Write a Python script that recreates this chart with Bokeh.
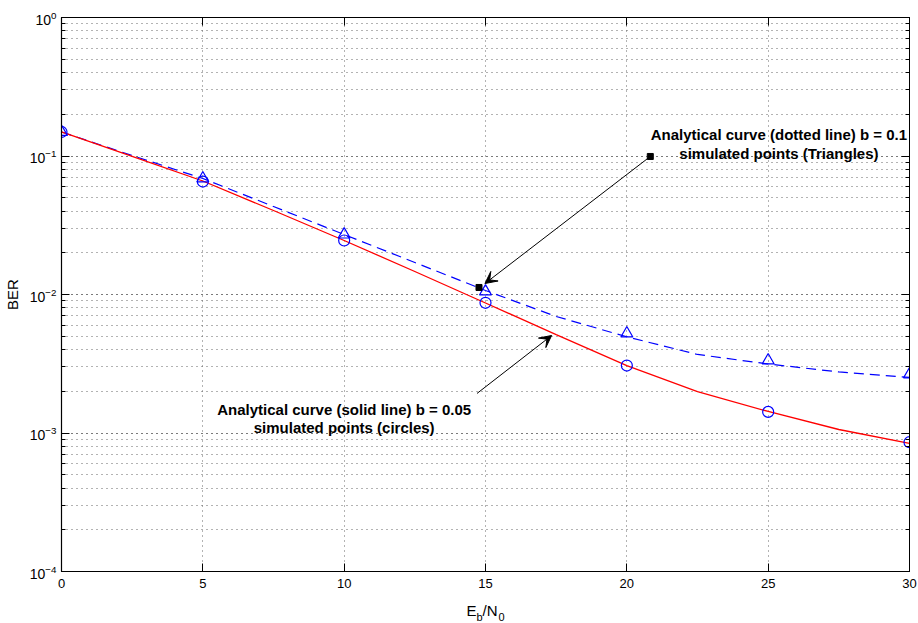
from bokeh.plotting import figure
from bokeh.layouts import column
from bokeh.models import (ColumnDataSource, Range1d, LogAxis, LinearAxis,
                          SingleIntervalTicker, LogTicker, Arrow, VeeHead,
                          LogTickFormatter, CustomLabelingPolicy)
from bokeh.core.properties import value
from bokeh.embed import file_html
from bokeh.resources import INLINE

# ---------------- data ----------------
ebn0_sim = [0, 5, 10, 15, 20, 25, 30]
ber_circles_b005 = [0.1491, 0.0654, 0.02454, 0.00871, 0.00307, 0.00142, 0.000858]
ber_triangles_b01 = [0.1491, 0.0688, 0.0271, 0.01051, 0.00523, 0.00334, 0.00265]

ebn0_curve = [0, 2.5, 5, 7.5, 10, 12.5, 15, 17.5, 20, 22.5, 25, 27.5, 30]
ber_analytic_b005 = [0.1491, 0.0992, 0.0660, 0.0404, 0.02454, 0.01466, 0.00868,
                     0.00514, 0.00307, 0.00199, 0.00143, 0.00106, 0.00084]
ber_analytic_b01 = [0.1491, 0.1008, 0.0688, 0.0432, 0.0271, 0.01702, 0.01069,
                    0.00694, 0.00495, 0.00369, 0.00315, 0.00276, 0.00252]

annot_text = ["Analytical curve (dotted line) b = 0.1", "simulated points (Triangles)",
              "Analytical curve (solid line) b = 0.05", "simulated points (circles)"]
annot_x = [25.38, 25.38, 10.0, 10.0]
annot_y = [0.1418, 0.1047, 0.00149, 0.00110]

arrow_start_x = [20.83, 14.70]
arrow_start_y = [0.0992, 0.00193]
arrow_end_x = [14.98, 17.34]
arrow_end_y = [0.0120, 0.00506]
square_x = [20.83, 14.77]
square_y = [0.0992, 0.01124]

# x-axis title "E_b/N_0" split into main text and subscripts
xlabel_main = ["E", "/N"]
xlabel_main_dx = [-19, -3]
xlabel_sub = ["b", "0"]
xlabel_sub_dx = [-9, 13]
xlabel_center = 15

x_ticks_interval = 5
FONT = "Liberation Sans"

# ---------------- main figure ----------------
p = figure(width=918, height=600, x_range=Range1d(0, 30), y_range=Range1d(1e-4, 1),
           y_axis_type="log", output_backend="svg", toolbar_location=None, title=None,
           min_border_left=58, min_border_right=9, min_border_top=17, min_border_bottom=29,
           background_fill_color="white", border_fill_color="white")
p.outline_line_color = "black"
p.outline_line_width = 1

xax = p.xaxis[0]
xax.ticker = SingleIntervalTicker(interval=x_ticks_interval, num_minor_ticks=0)
yax = p.yaxis[0]
yax.ticker = LogTicker(mantissas=[1], num_minor_ticks=10)
for ax in (xax, yax):
    ax.major_tick_in = 8
    ax.major_tick_out = 0
    ax.minor_tick_in = 4
    ax.minor_tick_out = 0
    ax.axis_line_color = "black"
    ax.axis_line_width = 1.2
    ax.major_label_text_font = FONT
    ax.major_label_text_font_size = "13px"
    ax.major_label_text_color = "black"
yax.formatter = LogTickFormatter()
yax.major_label_text_font_size = "14px"
yax.axis_label = "BER"
yax.axis_label_text_font = FONT
yax.axis_label_text_font_style = "normal"
yax.axis_label_text_font_size = "15px"
yax.axis_label_text_color = "black"
yax.axis_label_standoff = 6
yax.major_label_standoff = 5
xax.major_label_standoff = 7

# right and top box axes (ticks only, labels suppressed)
rax = LogAxis(ticker=LogTicker(mantissas=[1], num_minor_ticks=10))
tax = LinearAxis(ticker=SingleIntervalTicker(interval=x_ticks_interval, num_minor_ticks=0))
for ax in (rax, tax):
    ax.major_tick_in = 8
    ax.major_tick_out = 0
    ax.minor_tick_in = 4
    ax.minor_tick_out = 0
    ax.major_label_text_font_size = "1px"
    ax.major_label_standoff = 0
    ax.major_label_policy = CustomLabelingPolicy(code="return []")
    ax.axis_line_color = "black"
p.add_layout(rax, "right")
p.add_layout(tax, "above")

for g in (p.xgrid[0], p.ygrid[0]):
    g.grid_line_color = "#666666"
    g.grid_line_dash = "1 4"
    g.grid_line_width = 1
p.ygrid[0].minor_grid_line_color = "#666666"
p.ygrid[0].minor_grid_line_dash = "1 4"
p.ygrid[0].minor_grid_line_width = 1

curve_src = ColumnDataSource(dict(x=ebn0_curve, b005=ber_analytic_b005, b01=ber_analytic_b01))
p.line("x", "b01", source=curve_src, line_color="#0000ff", line_width=1.2, line_dash="10 6")
p.line("x", "b005", source=curve_src, line_color="#ff0000", line_width=1.3)

sim_src = ColumnDataSource(dict(x=ebn0_sim, c=ber_circles_b005, t=ber_triangles_b01))
p.scatter("x", "t", source=sim_src, marker="triangle", size=12, fill_color=None,
          line_color="#0000ff", line_width=1.2)
p.scatter("x", "c", source=sim_src, marker="circle", size=11, fill_color=None,
          line_color="#0000ff", line_width=1.2)

for xs, ys, xe, ye in zip(arrow_start_x, arrow_start_y, arrow_end_x, arrow_end_y):
    p.add_layout(Arrow(end=VeeHead(size=12, fill_color="black", line_color="black"),
                       x_start=xs, y_start=ys, x_end=xe, y_end=ye,
                       line_color="black", line_width=1))
p.scatter(square_x, square_y, marker="square", size=6, fill_color="black", line_color="black")

txt_src = ColumnDataSource(dict(x=annot_x, y=annot_y, t=annot_text))
p.text("x", "y", text="t", source=txt_src, text_font=value(FONT), text_font_style="bold",
       text_font_size="15px", text_align="center", text_baseline="alphabetic", text_color="black")

# ---------------- strip below holding the x-axis title ----------------
p2 = figure(width=918, height=23, x_range=p.x_range, y_range=Range1d(23, 0), title=None,
            x_axis_type=None, y_axis_type=None, output_backend="svg", toolbar_location=None,
            min_border=0, background_fill_color="white", border_fill_color="white")
p2.min_border_left = 58
p2.min_border_right = 9
p2.outline_line_color = None
p2.grid.visible = False
main_src = ColumnDataSource(dict(x=[xlabel_center] * 2, y=[10, 10], t=xlabel_main, dx=xlabel_main_dx))
sub_src = ColumnDataSource(dict(x=[xlabel_center] * 2, y=[16, 16], t=xlabel_sub, dx=xlabel_sub_dx))
p2.text("x", "y", text="t", x_offset="dx", source=main_src, text_font=value(FONT),
        text_font_size="15px", text_align="left", text_baseline="alphabetic", text_color="black")
p2.text("x", "y", text="t", x_offset="dx", source=sub_src, text_font=value(FONT),
        text_font_size="11px", text_align="left", text_baseline="alphabetic", text_color="black")

layout = column(p, p2, spacing=0)
open("out.html", "w").write(file_html(layout, INLINE))
